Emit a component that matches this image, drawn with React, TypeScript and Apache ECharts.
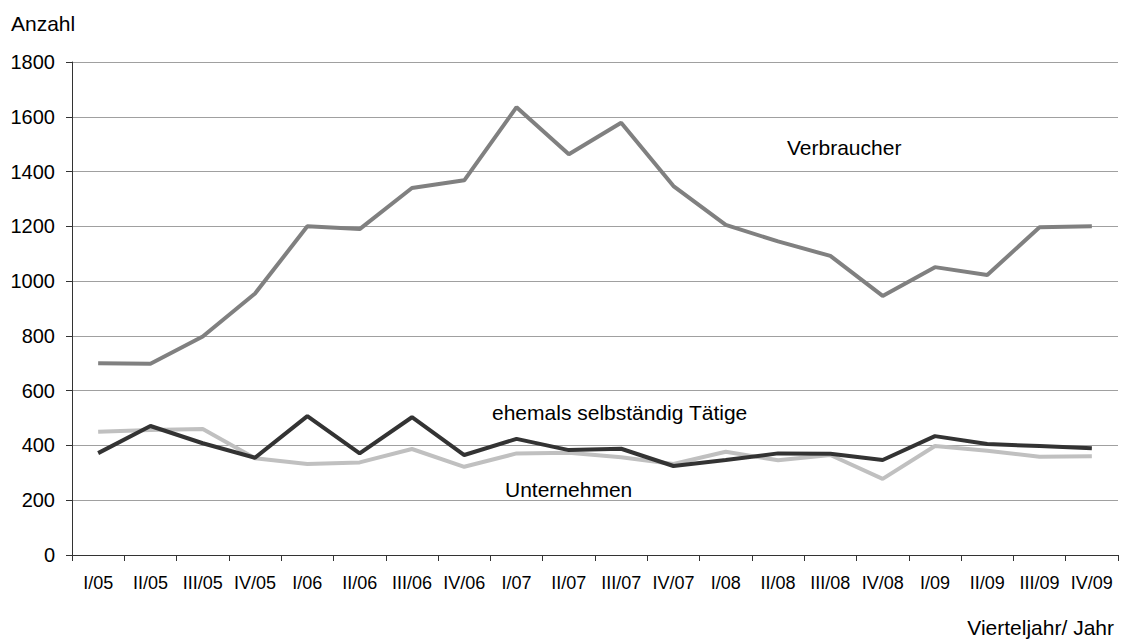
import React, { useEffect, useRef } from "react";
import * as echarts from "echarts";

const categories = [
  "I/05", "II/05", "III/05", "IV/05",
  "I/06", "II/06", "III/06", "IV/06",
  "I/07", "II/07", "III/07", "IV/07",
  "I/08", "II/08", "III/08", "IV/08",
  "I/09", "II/09", "III/09", "IV/09",
];

const verbraucher = [
  700, 698, 798, 955, 1200, 1190, 1340, 1368, 1635, 1463,
  1578, 1347, 1205, 1145, 1092, 946, 1051, 1022, 1197, 1200,
];

const ehemalsSelbstaendig = [
  372, 471, 408, 355, 507, 371, 503, 365, 424, 383,
  388, 325, 347, 371, 370, 347, 434, 405, 398, 390,
];

const unternehmen = [
  450, 456, 460, 353, 332, 338, 387, 322, 371, 373,
  357, 332, 377, 346, 365, 278, 398, 381, 359, 361,
];

const yTicks = [0, 200, 400, 600, 800, 1000, 1200, 1400, 1600, 1800];

const FONT = "'Liberation Sans', Arial, sans-serif";

export default function App() {
  const ref = useRef<HTMLDivElement>(null);

  useEffect(() => {
    if (!ref.current) return;
    const chart = echarts.init(ref.current, null, { renderer: "svg" });
    const textStyle = (text: string) => ({
      text,
      fill: "#000",
      font: `21px ${FONT}`,
      textVerticalAlign: "middle",
    });
    chart.setOption({
      animation: false,
      backgroundColor: "#ffffff",
      grid: { left: 72, right: 4, top: 62, bottom: 84, containLabel: false },
      xAxis: {
        type: "category",
        data: categories,
        boundaryGap: true,
        axisLine: { show: true, lineStyle: { color: "#333", width: 1 } },
        axisTick: { show: true, alignWithLabel: false, length: 6, lineStyle: { color: "#333" } },
        axisLabel: {
          color: "#000",
          fontFamily: FONT,
          fontSize: 18,
          margin: 19,
          interval: 0,
        },
        splitLine: { show: false },
      },
      yAxis: {
        type: "value",
        min: yTicks[0],
        max: yTicks[yTicks.length - 1],
        interval: 200,
        axisLine: { show: true, lineStyle: { color: "#333", width: 1 } },
        axisTick: { show: true, length: 6, lineStyle: { color: "#333" } },
        axisLabel: {
          color: "#000",
          fontFamily: FONT,
          fontSize: 20,
          margin: 17,
          formatter: (v: number) => String(v),
        },
        splitLine: { show: true, lineStyle: { color: "#a0a0a0", width: 1 } },
      },
      series: [
        {
          name: "Verbraucher",
          type: "line",
          data: verbraucher,
          symbol: "none",
          lineStyle: { color: "#808080", width: 4 },
          z: 3,
        },
        {
          name: "Unternehmen",
          type: "line",
          data: unternehmen,
          symbol: "none",
          lineStyle: { color: "#c0c0c0", width: 4 },
          z: 2,
        },
        {
          name: "ehemals selbständig Tätige",
          type: "line",
          data: ehemalsSelbstaendig,
          symbol: "none",
          lineStyle: { color: "#333333", width: 4 },
          z: 4,
        },
      ],
      graphic: [
        { type: "text", x: 11, y: 23, style: textStyle("Anzahl") },
        { type: "text", x: 787, y: 147, style: textStyle("Verbraucher") },
        { type: "text", x: 492, y: 412, style: textStyle("ehemals selbständig Tätige") },
        { type: "text", x: 505, y: 489, style: textStyle("Unternehmen") },
        {
          type: "text",
          x: 1114,
          y: 627,
          style: { ...textStyle("Vierteljahr/ Jahr"), textAlign: "right" },
        },
      ],
    });
    return () => chart.dispose();
  }, []);

  return (
    <div
      ref={ref}
      style={{ position: "fixed", left: 0, top: 0, width: 1122, height: 639 }}
    />
  );
}
